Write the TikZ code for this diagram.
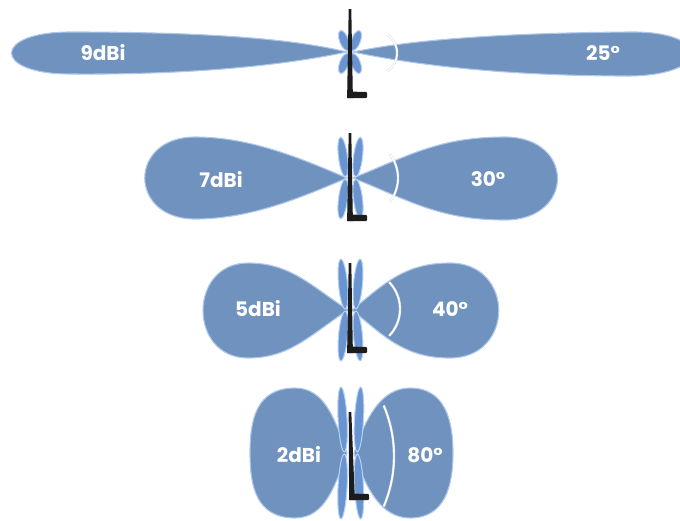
\documentclass[tikz,border=0pt]{standalone}
\usepackage{fontspec}
\setmainfont{Poppins}
\definecolor{lobeblue}{HTML}{6F92BF}
\definecolor{lobeedge}{HTML}{AFC8EA}
\definecolor{petalblue}{HTML}{6A94D0}
\definecolor{petaledge}{HTML}{B4D2F6}
\definecolor{rodblack}{HTML}{1C1C1C}
\definecolor{arcgrey}{HTML}{D5DAE2}

% one tapered whip antenna with its right-angle foot:
% #1 x at top, #2 top y, #3 x at bottom, #4 bottom y
\newcommand\whip[4]{%
  \fill[rodblack] (#1-1.3,#2) -- (#1+1.3,#2) -- (#3+2.9,#4) -- (#3-2.9,#4) -- cycle;
  \fill[rodblack,rounded corners=1pt] (#3-2.9,#4-6.5) -- (#3+17,#4-6) -- (#3+17,#4) -- (#3-2.9,#4) -- cycle;
}
% four small side petals around the feed point:
% #1 centre x, #2 centre y, #3 half length, #4 x offset, #5 tilt
\newcommand\petals[5]{%
  \draw[petal] (#1-#4,#2-#3-1) ellipse[x radius=4.5, y radius=#3, rotate=#5];
  \draw[petal] (#1+#4,#2-#3-1) ellipse[x radius=4.5, y radius=#3, rotate=-#5];
  \draw[petal] (#1-#4,#2+#3+1) ellipse[x radius=4.5, y radius=#3, rotate=-#5];
  \draw[petal] (#1+#4,#2+#3+1) ellipse[x radius=4.5, y radius=#3, rotate=#5];
}
% beam-width arc: #1 centre x, #2 centre y, #3 radius, #4 half angle
\newcommand\beamarc[4]{%
  \draw[arcgrey,line width=2.4pt] plot[domain=-#4:#4,samples=40] ({#1+#3*cos(\x)},{#2+#3*sin(\x)});
  \draw[white,line width=1.4pt] plot[domain=-#4:#4,samples=40] ({#1+#3*cos(\x)},{#2+#3*sin(\x)});
}

\begin{document}
\begin{tikzpicture}[x=1pt,y=-1pt,
  lobe/.style={fill=lobeblue,draw=lobeedge,line width=1.1pt},
  petal/.style={fill=petalblue,draw=petaledge,line width=1pt},
  gain/.style={text=white,font=\fontsize{20}{24}\selectfont\bfseries,inner sep=0pt}]
\useasboundingbox (0,0) rectangle (680,520);
\clip (0,0) rectangle (680,520);

% ---------- 9 dBi ----------
\draw[lobe] (347,52) .. controls (290,38) and (200,32) .. (70,32)
  .. controls (-8,32) and (-8,74) .. (70,74)
  .. controls (200,75) and (290,64) .. (347,52) -- cycle;
\draw[lobe] (353,52) .. controls (410,40) and (500,33) .. (630,32)
  .. controls (712,31) and (712,75) .. (630,76)
  .. controls (500,76) and (410,64) .. (353,52) -- cycle;
\beamarc{375}{53}{22}{57}
\petals{350}{52}{10.5}{6}{20}
\whip{350}{9}{350}{98}
\node[gain] (g9) at (103,53) {9dBi};
\node[gain] (w25) at (603,53) {25°};

% ---------- 7 dBi ----------
\draw[lobe] (347,178) .. controls (300,158) and (250,137) .. (195,137)
  .. controls (128,137) and (128,219) .. (195,219)
  .. controls (250,219) and (300,198) .. (347,178) -- cycle;
\draw[lobe] (353,178) .. controls (410,155) and (440,137) .. (505,137)
  .. controls (575,137) and (575,220) .. (505,220)
  .. controls (440,220) and (410,201) .. (353,178) -- cycle;
\beamarc{359.5}{178}{38.5}{38}
\petals{350.5}{178}{20}{7.5}{7}
\whip{350}{133}{350}{221}
\node[gain] (g7) at (221,180) {7dBi};
\node[gain] (w30) at (488,179) {30°};

% ---------- 5 dBi ----------
\draw[lobe] (348,310) .. controls (310,285) and (290,263) .. (248,263)
  .. controls (188,263) and (188,358) .. (248,358)
  .. controls (290,358) and (310,335) .. (348,310) -- cycle;
\draw[lobe] (352,310) .. controls (385,283) and (405,263) .. (450,263)
  .. controls (515,263) and (515,358) .. (450,358)
  .. controls (405,358) and (385,337) .. (352,310) -- cycle;
\beamarc{361.4}{309}{38.6}{44}
\petals{350.5}{310}{25}{7.5}{5}
\whip{350}{263}{350}{353}
\node[gain] (g5) at (258,309) {5dBi};
\node[gain] (w40) at (450,309) {40°};

% ---------- 2 dBi ----------
\draw[lobe] (347,453) .. controls (335,420) and (325,388) .. (295,388)
  .. controls (256,388) and (250,420) .. (250,453)
  .. controls (250,486) and (256,518) .. (295,518)
  .. controls (325,518) and (335,486) .. (347,453) -- cycle;
\draw[lobe] (354,453) .. controls (365,420) and (380,388) .. (410,388)
  .. controls (445,388) and (453,420) .. (453,453)
  .. controls (453,486) and (445,518) .. (410,518)
  .. controls (380,518) and (365,486) .. (354,453) -- cycle;
\beamarc{265}{456}{129}{23}
\petals{350.8}{453}{32.5}{8.2}{3}
\whip{350}{412}{352}{500}
\node[gain] (g2) at (299,455) {2dBi};
\node[gain] (w80) at (425,455) {80°};
\end{tikzpicture}
\end{document}
